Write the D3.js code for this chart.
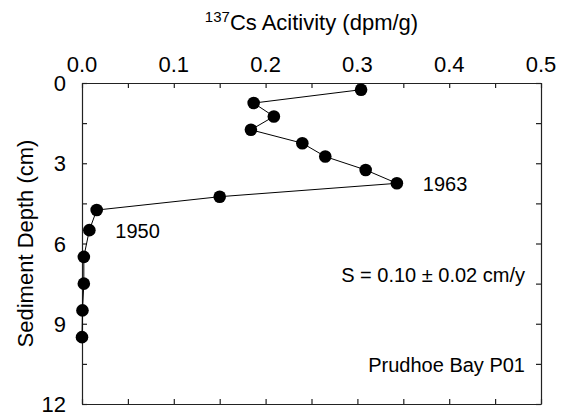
<!DOCTYPE html>
<html>
<head>
<meta charset="utf-8">
<script src="https://cdn.jsdelivr.net/npm/d3@7"></script>
<style>
  body { margin: 0; background: #fff; }
  svg { display: block; font-family: "Liberation Sans", Arial, sans-serif; }
</style>
</head>
<body>
<div id="svgdiv"></div>
<script>
// data: activity (dpm/g) vs depth (cm)
var depth = [0.25, 0.75, 1.25, 1.75, 2.25, 2.75, 3.25, 3.75, 4.25, 4.75, 5.5, 6.5, 7.5, 8.5, 9.5];
var activity = [0.304, 0.187, 0.209, 0.184, 0.240, 0.265, 0.309, 0.343, 0.150, 0.016, 0.008, 0.002, 0.002, 0.0005, 0.0];
var xTickLabels = [0.0, 0.1, 0.2, 0.3, 0.4, 0.5];
var yTickLabels = [0, 3, 6, 9, 12];
var annotations = [
    { text: "1963", depth: 3.75 },
    { text: "1950", depth: 5.5 }
];

// Step 1: Set up the chart
var svgWidth = 564;
var svgHeight = 420;

var margin = {
    top: 83,
    right: 23,
    bottom: 16,
    left: 82
};

var width = svgWidth - margin.left - margin.right;
var height = svgHeight - margin.top - margin.bottom;

var svg = d3.select("#svgdiv")
    .append("svg")
    .attr("height", svgHeight)
    .attr("width", svgWidth);

var chartGroup = svg.append("g")
    .attr("transform", `translate(${margin.left}, ${margin.top})`);

var points = depth.map(function(d, i) {
    return { depth: d, activity: activity[i] };
});

// Step 2: scales
var xLinearScale = d3.scaleLinear().domain([0, 0.5]).range([0, width]);
var yLinearScale = d3.scaleLinear().domain([0, 12]).range([0, height]);

var minorX = d3.range(0, 0.5001, 0.05);
var minorY = d3.range(0, 12.001, 1.5);

// Step 3: axes (ticks point inward)
var topAxis = d3.axisTop(xLinearScale).tickValues(minorX).tickSizeInner(-5).tickSizeOuter(0).tickFormat("");
var bottomAxis = d3.axisBottom(xLinearScale).tickValues(minorX).tickSizeInner(-5).tickSizeOuter(0).tickFormat("");
var leftAxis = d3.axisLeft(yLinearScale).tickValues(minorY).tickSizeInner(-5).tickSizeOuter(0).tickFormat("");
var rightAxis = d3.axisRight(yLinearScale).tickValues(minorY).tickSizeInner(-5).tickSizeOuter(0).tickFormat("");

chartGroup.append("g").call(topAxis);
chartGroup.append("g").attr("transform", `translate(0, ${height})`).call(bottomAxis);
chartGroup.append("g").call(leftAxis);
chartGroup.append("g").attr("transform", `translate(${width}, 0)`).call(rightAxis);

chartGroup.selectAll(".domain, .tick line")
    .attr("stroke", "#222")
    .attr("stroke-width", 1.2);

// tick labels
chartGroup.selectAll(".xlab")
    .data(xTickLabels)
    .enter()
    .append("text")
        .attr("class", "xlab")
        .attr("x", d => xLinearScale(d))
        .attr("y", -11)
        .attr("text-anchor", "middle")
        .attr("font-size", "22px")
        .attr("fill", "#000")
        .text(d => d3.format(".1f")(d));

chartGroup.selectAll(".ylab")
    .data(yTickLabels)
    .enter()
    .append("text")
        .attr("class", "ylab")
        .attr("x", -16)
        .attr("y", d => yLinearScale(d) + 8)
        .attr("text-anchor", "end")
        .attr("font-size", "22px")
        .attr("fill", "#000")
        .text(d => d);

// Step 4: line and circles
var line = d3.line()
    .x(d => xLinearScale(d.activity))
    .y(d => yLinearScale(d.depth));

chartGroup.append("path")
    .datum(points)
    .attr("d", line)
    .attr("fill", "none")
    .attr("stroke", "#000")
    .attr("stroke-width", 1);

chartGroup.selectAll("circle")
    .data(points)
    .enter()
    .append("circle")
        .attr("cx", d => xLinearScale(d.activity))
        .attr("cy", d => yLinearScale(d.depth))
        .attr("r", 6.3)
        .attr("fill", "#000");

// year labels next to their points
annotations.forEach(function(a) {
    var p = points.find(d => d.depth === a.depth);
    chartGroup.append("text")
        .attr("x", xLinearScale(p.activity) + 26)
        .attr("y", yLinearScale(p.depth) + 8)
        .attr("font-size", "20px")
        .attr("fill", "#000")
        .text(a.text);
});

// Step 5: titles and notes
var title = svg.append("text")
    .attr("x", margin.left + width / 2)
    .attr("y", 30)
    .attr("text-anchor", "middle")
    .attr("font-size", "22px")
    .attr("fill", "#000");
title.append("tspan").attr("font-size", "15px").attr("dy", "-8").text("137");
title.append("tspan").attr("dy", "8").text("Cs Acitivity (dpm/g)");

svg.append("text")
    .attr("transform", `translate(33, ${margin.top + height / 2}) rotate(-90)`)
    .attr("text-anchor", "middle")
    .attr("font-size", "22px")
    .attr("fill", "#000")
    .text("Sediment Depth (cm)");

svg.append("text")
    .attr("x", 525)
    .attr("y", 282)
    .attr("text-anchor", "end")
    .attr("font-size", "20px")
    .attr("fill", "#000")
    .text("S = 0.10 \u00b1 0.02 cm/y");

svg.append("text")
    .attr("x", 525)
    .attr("y", 372)
    .attr("text-anchor", "end")
    .attr("font-size", "20px")
    .attr("fill", "#000")
    .text("Prudhoe Bay P01");
</script>
</body>
</html>
